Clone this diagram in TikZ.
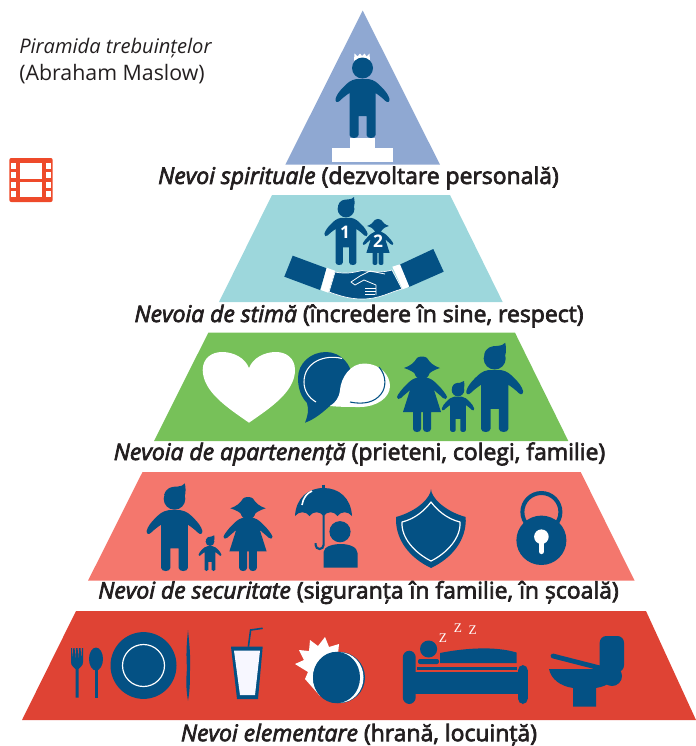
\documentclass[tikz,border=0pt]{standalone}
\usepackage{fontspec}
\setmainfont{Open Sans}[RawFeature={embolden=3}]
\newfontfamily\lightf{Open Sans}
\newfontfamily\zedf{Liberation Serif}
\definecolor{navy}{HTML}{045184}
\definecolor{lvla}{HTML}{8FA8D2}
\definecolor{lvlb}{HTML}{9DD7DC}
\definecolor{lvlc}{HTML}{77C159}
\definecolor{lvld}{HTML}{F4776D}
\definecolor{lvle}{HTML}{DF4334}
\definecolor{filmc}{HTML}{EE4A2A}
\definecolor{ink}{HTML}{231F20}
\newcommand{\manshape}{%
    \fill[navy] (0,-70) circle (10.5);
    \fill[navy] (-6,-59) .. controls (-12,-58) and (-15,-55) .. (-19,-51) .. controls (-23,-47) and (-26,-43) .. (-27,-39)
      .. controls (-27.5,-36) and (-25,-35) .. (-23,-37) .. controls (-20,-40) and (-16,-43) .. (-13,-45)
      -- (-13,-3) .. controls (-13,1) and (-4,1) .. (-4,-3) -- (-4,-22) -- (4,-22) -- (4,-3) .. controls (4,1) and (13,1) .. (13,-3)
      -- (13,-45) .. controls (16,-43) and (20,-40) .. (23,-37) .. controls (25,-35) and (27.5,-36) .. (27,-39)
      .. controls (26,-43) and (23,-47) .. (19,-51) .. controls (15,-55) and (12,-58) .. (6,-59) -- cycle;
}
\tikzset{
  x=0.75pt,y=-0.75pt,
  caption/.style={inner sep=0pt,text=ink,font=\fontsize{17.2}{19}\selectfont,anchor=center},
  man/.pic={\manshape},
  manh/.pic={
    \manshape
    \fill[navy] (-10,-74) .. controls (-8,-81) and (-3,-82) .. (3,-82) .. controls (6,-82) and (8,-83) .. (10,-85) .. controls (11,-81) and (11,-76) .. (10,-73) -- cycle;
  },
  woman/.pic={
    \fill[navy] (0,-60) circle (7.5);
    \fill[navy] (-18,-64) .. controls (-12,-66) and (-8,-69) .. (-5,-74) .. controls (-3,-76) and (3,-76) .. (5,-74) .. controls (8,-69) and (12,-66) .. (18,-64) .. controls (12,-62) and (8,-60) .. (6,-57) -- (-6,-57) .. controls (-8,-60) and (-12,-62) .. (-18,-64) -- cycle;
    \fill[navy] (-6,-54) .. controls (-10,-53) and (-13,-50) .. (-16,-47) .. controls (-20,-43) and (-24,-38) .. (-25,-35)
      .. controls (-25,-33) and (-23,-32) .. (-21,-34) .. controls (-18,-37) and (-15,-39) .. (-12,-42)
      -- (-19,-20) -- (-9,-20) -- (-9,-3) .. controls (-9,1) and (-1,1) .. (-1,-3) -- (-1,-20) -- (1,-20) -- (1,-3) .. controls (1,1) and (9,1) .. (9,-3) -- (9,-20) -- (19,-20)
      -- (12,-42) .. controls (15,-39) and (18,-37) .. (21,-34) .. controls (23,-32) and (25,-33) .. (25,-35)
      .. controls (24,-38) and (20,-43) .. (16,-47) .. controls (13,-50) and (10,-53) .. (6,-54) -- cycle;
  }
}
\begin{document}
\begin{tikzpicture}
\useasboundingbox (0,0) rectangle (696,746);
% levels
\fill[lvla] (362.7,10.5) -- (440,164.7) -- (285.3,164.7) -- cycle;
\fill[lvlb] (272,195) -- (450,195) -- (502.7,302) -- (219,302) -- cycle;
\fill[lvlc] (208.3,332.7) -- (515,332.7) -- (568.3,441) -- (154,441) -- cycle;
\fill[lvld] (142.5,472) -- (580.7,472) -- (634.6,580.7) -- (88,580.7) -- cycle;
\fill[lvle] (76,611) -- (646,611) -- (696,720) -- (22,720) -- cycle;
% captions
\node[caption] (capa) at (358.5,178) {\textit{Nevoi spirituale} (dezvoltare personală)};
\node[caption] (capb) at (359,316) {\textit{Nevoia de stimă} (încredere în sine, respect)};
\node[caption] (capc) at (359.5,454) {\textit{Nevoia de apartenență} (prieteni, colegi, familie)};
\node[caption] (capd) at (358.5,592.5) {\textit{Nevoi de securitate} (siguranța în familie, în școală)};
\node[caption] (cape) at (359,735) {\textit{Nevoi elementare} (hrană, locuință)};
\node[inner sep=0pt,anchor=west,text=ink,font=\lightf\fontsize{15.1}{17}\selectfont] (titlea) at (19,48) {\textit{Piramida trebuințelor}};
\node[inner sep=0pt,anchor=west,text=ink,font=\lightf\fontsize{16}{18}\selectfont] (titleb) at (19,74) {(Abraham Maslow)};
% film icon
\fill[filmc,rounded corners=1.5pt] (9.3,158) rectangle (52.7,202);
\foreach \yy in {163,172,181.5,191}{
  \fill[white] (11.3,\yy) rectangle (16.3,\yy+6);
  \fill[white] (45.7,\yy) rectangle (50.7,\yy+6);
}
\fill[white] (20,163) rectangle (42,178.5);
\fill[white] (20,181.5) rectangle (42,197);
% level a
\fill[white] (354,60.5) -- (354.5,53.5) -- (357.5,56.5) -- (360,53.5) -- (362,56) -- (364.5,53.5) -- (366.5,56.5) -- (369.5,53.5) -- (370,60.5) -- cycle;
\pic at (362.5,138) {man};
\fill[white] (350,137.7) rectangle (375,148);
\fill[white] (332,148) rectangle (393,162);
% level b
\pic[scale=0.8] at (346,265) {manh};
\pic[scale=0.61] at (378,265) {woman};
\node[inner sep=0pt,text=white,font=\lightf\bfseries\fontsize{13}{13}\selectfont] (numa) at (345,232) {1};
\node[inner sep=0pt,text=white,font=\lightf\bfseries\fontsize{13}{13}\selectfont] (numb) at (378,241) {2};
\fill[navy] (292.7,255.7) -- (326.7,268.3) -- (320,290) -- (284.3,276.7) -- cycle;
\fill[white] (326.7,267.7) -- (335,270.7) -- (328.3,292.7) -- (320.7,290) -- cycle;
\fill[navy] (433.3,249) -- (443.7,271.7) -- (408.3,287.3) -- (399,265) -- cycle;
\fill[white] (392.3,266.7) -- (400,264.3) -- (409.3,286.7) -- (402.7,289.3) -- cycle;
\filldraw[fill=navy,draw=white,line width=0.5pt] (335,272) .. controls (345,274) and (352,273) .. (362,270.5) .. controls (372,272) and (382,273) .. (392,270) -- (402,289) .. controls (390,292) and (380,299) .. (362,299) .. controls (348,299) and (338,295) .. (329,292) -- cycle;
\draw[white,line width=0.6pt,line join=round] (385,274) -- (370,271) -- (360,276) -- (351,282) -- (355,285) -- (364,280) -- (376,285) -- (376,295);
\draw[white,line width=0.6pt] (365,288) -- (376,288) (365,291) -- (376,291) (365,294) -- (375,294);
% level c
\fill[white] (249,422.7) .. controls (228,408) and (203,392) .. (202.7,370) .. controls (202.7,358) and (212,352) .. (222,352) .. controls (234,352) and (245,358) .. (249,368) .. controls (253,358) and (264,352) .. (276,352) .. controls (286,352) and (295,358) .. (295,370) .. controls (295,392) and (270,408) .. (249,422.7) -- cycle;
\fill[navy] (305,422.7) .. controls (308,415) and (309,410) .. (307,403) .. controls (298,394) and (298,381) .. (298,378) .. controls (298,363) and (311,352) .. (326,352) .. controls (341,352) and (352,365) .. (352,378) .. controls (352,392) and (345,405) .. (331,405) .. controls (322,413) and (315,419) .. (305,422.7) -- cycle;
\draw[white,line width=0.8pt] (342,358.5) .. controls (325,354) and (304,362) .. (304,382) .. controls (304,391) and (309,398) .. (316,402);
\fill[white] (330,406) .. controls (336,402) and (339,398) .. (340,390) .. controls (341,378) and (350,363) .. (365,363.5) .. controls (380,364) and (390,375) .. (390,386) .. controls (390,398) and (376,407) .. (360,407) .. controls (350,407) and (340,407) .. (330,406) -- cycle;
\draw[navy,line width=0.8pt] (379,367) .. controls (387,376) and (386,388) .. (381,394) .. controls (375,402) and (364,405) .. (350,402);
\pic[scale=1] at (422,432) {woman};
\pic[scale=0.6] at (458,432) {manh};
\pic[scale=1.05] at (494.7,432) {manh};
% level d
\pic[scale=1.03] at (174.5,571) {manh};
\pic[scale=0.42] at (210,571) {manh};
\pic[scale=0.98] at (248,571) {woman};
\fill[navy] (295,516) .. controls (296,498) and (308,488) .. (323.6,488) .. controls (339,488) and (351,498) .. (352,516) .. controls (348,511) and (341,511) .. (337.5,516) .. controls (334,511) and (327,511) .. (323.6,516) .. controls (320,511) and (313,511) .. (309.5,516) .. controls (306,511) and (299,511) .. (295,516) -- cycle;
\draw[navy,line width=1.8pt] (323.6,484.5) -- (323.6,490);
\draw[navy,line width=1.6pt] (323.6,512) -- (323.6,545) arc[start angle=0,end angle=180,radius=4] -- ++(0,-2);
\draw[white,line width=1.2pt] (302,505) .. controls (303,498) and (307,493) .. (312,491);
\fill[navy] (340,531.7) circle (10.6);
\fill[navy] (323.6,567.7) -- (323.6,552) .. controls (324,546) and (334,544) .. (341,544) .. controls (349,544) and (357.5,547) .. (357.5,553) -- (357.5,567.7) -- cycle;
\fill[navy] (431,489) .. controls (431,497) and (444,511) .. (465.7,517) .. controls (467,540) and (452,558) .. (431,568) .. controls (410,558) and (395,540) .. (396,517) .. controls (418,511) and (431,497) .. (431,489) -- cycle;
\draw[white,line width=0.9pt,line join=round] (431,502) .. controls (437,510) and (447,519) .. (460,522) .. controls (461,538) and (447,553) .. (431,561) .. controls (415,553) and (401,538) .. (402,522) .. controls (415,519) and (425,510) .. (431,502) -- cycle;
\draw[navy,line width=3pt] (541.4,512) ellipse [x radius=19,y radius=19];
\fill[navy] (541.4,540.3) ellipse [x radius=25,y radius=24.7];
\fill[white] (541.4,536.7) circle (7.3);
\draw[white,line width=4pt,line cap=round] (541.4,538) -- (541.4,551.5);
% level e
\fill[navy] (71,648) -- (72,648) -- (72.5,660) -- (73.3,648) -- (74.6,648) -- (75.4,660) -- (76,648) -- (77.6,648) -- (78.4,660) -- (79,648) -- (80.6,648) -- (81.2,660) -- (82,648) -- (83,648) -- (83,662) .. controls (83,666) and (80,667) .. (78.5,669) -- (78.5,697.7) -- (75.5,697.7) -- (75.5,669) .. controls (74,667) and (71,666) .. (71,662) -- cycle;
\fill[navy] (96,659) ellipse [x radius=7,y radius=11.5];
\fill[navy] (94.5,665) rectangle (97.5,698);
\fill[navy] (143.5,665.5) ellipse [x radius=33,y radius=33.4];
\draw[white,line width=0.9pt] (143.5,665.5) ellipse [x radius=21,y radius=21];
\fill[navy] (188,630) .. controls (189.5,645) and (190.5,655) .. (190,668) .. controls (190,680) and (190,690) .. (188,700.7) .. controls (186,690) and (186,680) .. (187,668) .. controls (186,655) and (186.5,645) .. (188,630) -- cycle;
\fill[navy] (231,646.7) -- (262.7,646.7) -- (258,699) -- (237,699) -- cycle;
\fill[white!97!blue] (234,650.7) -- (260,650.7) -- (255,695) -- (240,695) -- cycle;
\draw[navy,line width=1.2pt] (248.4,646.7) -- (250.6,630) -- (262.7,628.3);
\fill[white] (295,664) -- (304,660) -- (299,650) -- (309,651) -- (310,640) -- (318,646) -- (325,637) -- (329,647) -- (339,644) -- (338,654) -- (340,670) -- (320,696) -- (305,679) -- (308,672) -- cycle;
\fill[navy] (339,677.5) ellipse [x radius=26,y radius=25.7];
\fill[white] (340,677.5) ellipse [x radius=23.5,y radius=25.2];
\fill[navy] (336.5,677.5) ellipse [x radius=23.5,y radius=25.7];
\fill[navy,rounded corners=5pt] (402.8,650.7) rectangle (415.7,704);
\fill[navy,rounded corners=4pt] (518,665) rectangle (527.8,704);
\fill[navy] (410,671.7) rectangle (522,694);
\fill[navy] (416.6,667) rectangle (516.5,670);
\fill[navy] (440,653) .. controls (465,648) and (495,646) .. (516.5,652.5) -- (516.5,663) -- (440,663) -- cycle;
\fill[navy,rounded corners=1.5pt] (418,659) rectangle (439,664);
\fill[navy] (428.6,649) ellipse [x radius=8.6,y radius=8.5];
\node[inner sep=0pt,text=white,font=\zedf\fontsize{10}{10}\selectfont] (zeda) at (443,638) {Z};
\node[inner sep=0pt,text=white,font=\zedf\fontsize{10}{10}\selectfont] (zedb) at (458,628) {Z};
\node[inner sep=0pt,text=white,font=\zedf\fontsize{10}{10}\selectfont] (zedc) at (472.6,630) {Z};
\fill[navy,rounded corners=5pt] (599.7,636) rectangle (624,672);
\fill[navy] (612,676) circle (10);
\draw[navy,line width=3.6pt,line cap=round] (553,656) -- (600,668);
\fill[navy] (549,669) -- (600,669) -- (599.7,665) -- (620,670) .. controls (616,680) and (608,686) .. (596,688) -- (596,706.7) -- (573,706.7) -- (573,688) .. controls (560,686) and (551,679) .. (549,669) -- cycle;
\end{tikzpicture}
\end{document}
